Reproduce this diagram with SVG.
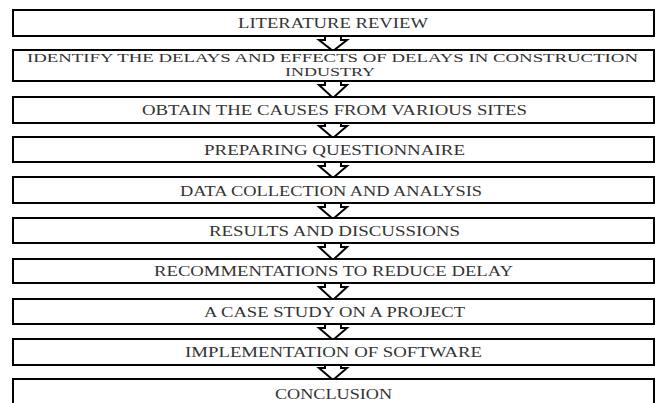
<svg xmlns="http://www.w3.org/2000/svg" width="659" height="403" viewBox="0 0 659 403">
<style>
.box{fill:#fff;stroke:#000;stroke-width:2}
.arr{fill:#fff;stroke:#000;stroke-width:2;stroke-linejoin:miter}
.t{font-family:"Liberation Serif","Times New Roman",serif;font-size:14px;fill:#333;text-anchor:middle}
.s{font-size:12.5px}
</style>
<rect width="659" height="403" fill="#fff"/>
<g id="connectors">
<polygon class="arr" points="325,33 325,40 319,40 333,51 347,40 341,40 341,33"/>
<polygon class="arr" points="325,78 325,85 319,85 333,98 347,85 341,85 341,78"/>
<polygon class="arr" points="325,120 325,126 319,126 333,138 347,126 341,126 341,120"/>
<polygon class="arr" points="325,159 325,166 319,166 333,178 347,166 341,166 341,159"/>
<polygon class="arr" points="325,200 325,207 319,207 333,219 347,207 341,207 341,200"/>
<polygon class="arr" points="325,240 325,247 319,247 333,260 347,247 341,247 341,240"/>
<polygon class="arr" points="325,280 325,287 319,287 333,300 347,287 341,287 341,280"/>
<polygon class="arr" points="325,321 325,328 319,328 333,340 347,328 341,328 341,321"/>
<polygon class="arr" points="325,362 325,368 319,368 333,380 347,368 341,368 341,362"/>
</g>
<g id="n1"><rect class="box" x="13" y="10" width="641" height="26"/><text class="t" x="333" y="28" textLength="190" lengthAdjust="spacingAndGlyphs">LITERATURE REVIEW</text></g>
<g id="n2"><rect class="box" x="13" y="50" width="641" height="31"/><text class="t s" x="332.5" y="62" textLength="611" lengthAdjust="spacingAndGlyphs">IDENTIFY THE DELAYS AND EFFECTS OF DELAYS IN CONSTRUCTION</text><text class="t s" x="330" y="76" textLength="90" lengthAdjust="spacingAndGlyphs">INDUSTRY</text></g>
<g id="n3"><rect class="box" x="13" y="97" width="641" height="26"/><text class="t" x="334.5" y="115" textLength="385" lengthAdjust="spacingAndGlyphs">OBTAIN THE CAUSES FROM VARIOUS SITES</text></g>
<g id="n4"><rect class="box" x="13" y="137" width="641" height="25"/><text class="t" x="334.5" y="155" textLength="261" lengthAdjust="spacingAndGlyphs">PREPARING QUESTIONNAIRE</text></g>
<g id="n5"><rect class="box" x="13" y="177" width="641" height="26"/><text class="t" x="331" y="196" textLength="302" lengthAdjust="spacingAndGlyphs">DATA COLLECTION AND ANALYSIS</text></g>
<g id="n6"><rect class="box" x="13" y="218" width="641" height="25"/><text class="t" x="334.5" y="236" textLength="251" lengthAdjust="spacingAndGlyphs">RESULTS AND DISCUSSIONS</text></g>
<g id="n7"><rect class="box" x="13" y="259" width="641" height="24"/><text class="t" x="333.5" y="276" textLength="359" lengthAdjust="spacingAndGlyphs">RECOMMENTATIONS TO REDUCE DELAY</text></g>
<g id="n8"><rect class="box" x="13" y="299" width="641" height="25"/><text class="t" x="334.5" y="317" textLength="261" lengthAdjust="spacingAndGlyphs">A CASE STUDY ON A PROJECT</text></g>
<g id="n9"><rect class="box" x="13" y="339" width="641" height="26"/><text class="t" x="333.5" y="357" textLength="297" lengthAdjust="spacingAndGlyphs">IMPLEMENTATION OF SOFTWARE</text></g>
<g id="n10"><rect class="box" x="13" y="379" width="641" height="30"/><text class="t" x="333.5" y="399" textLength="117" lengthAdjust="spacingAndGlyphs">CONCLUSION</text></g>
</svg>
